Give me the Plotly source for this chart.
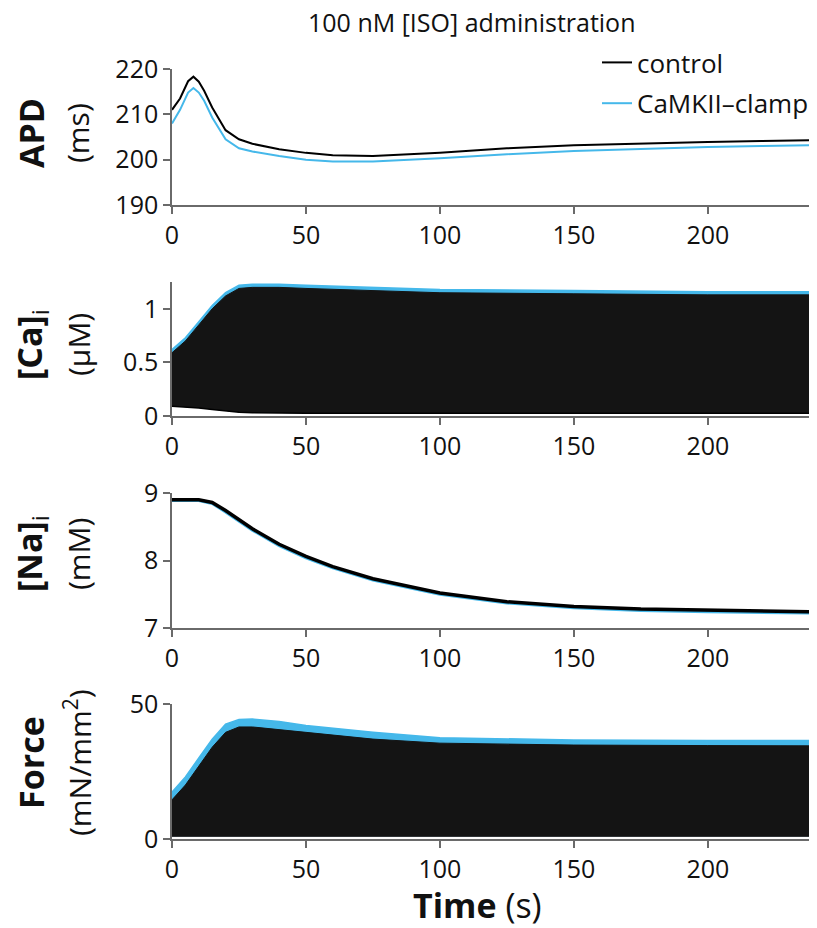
import plotly.graph_objects as go

# ---------------- data ----------------
t_apd = [0, 3, 6, 8, 10, 12, 15, 20, 25, 30, 40, 50, 60, 75, 100, 125, 150, 175, 200, 220, 240]
apd_control = [211, 213.5, 217.3, 218.3, 217.2, 215.2, 211.5, 206.5, 204.5, 203.5, 202.3, 201.5,
               201.0, 200.8, 201.5, 202.5, 203.2, 203.6, 203.9, 204.1, 204.3]
apd_clamp = [208, 211, 214.8, 215.8, 214.8, 213.0, 209.3, 204.5, 202.5, 201.8, 200.8, 200.0,
             199.6, 199.6, 200.3, 201.2, 201.9, 202.4, 202.8, 203.0, 203.2]

t_env = [0, 5, 10, 15, 20, 25, 30, 40, 50, 75, 100, 150, 200, 240]
ca_peak_control = [0.59, 0.70, 0.85, 1.00, 1.12, 1.19, 1.20, 1.20, 1.19, 1.17, 1.15, 1.14, 1.13, 1.13]
ca_peak_clamp = [0.62, 0.73, 0.88, 1.03, 1.15, 1.22, 1.23, 1.23, 1.22, 1.20, 1.18, 1.17, 1.16, 1.16]
ca_diast = [0.09, 0.085, 0.075, 0.06, 0.045, 0.035, 0.03, 0.027, 0.025, 0.025, 0.025, 0.025, 0.025, 0.025]

t_na = [0, 5, 10, 15, 20, 30, 40, 50, 60, 75, 100, 125, 150, 175, 200, 240]
na_control = [8.90, 8.90, 8.90, 8.86, 8.74, 8.47, 8.24, 8.06, 7.91, 7.73, 7.52, 7.39, 7.32, 7.28, 7.26, 7.24]
na_clamp = [8.89, 8.89, 8.89, 8.845, 8.72, 8.45, 8.22, 8.04, 7.89, 7.71, 7.50, 7.37, 7.30, 7.26, 7.24, 7.22]

force_peak_control = [14.5, 20, 27, 34, 39.5, 41.5, 41.5, 40.5, 39.3, 37.0, 35.5, 34.8, 34.6, 34.5]
force_peak_clamp = [17.4, 23, 30, 37, 42.5, 44.3, 44.4, 43.5, 42.0, 39.5, 37.5, 36.7, 36.5, 36.5]
force_diast = [1.0] * len(t_env)

x_ticks = [0, 50, 100, 150, 200]
ytick_apd = [190, 200, 210, 220]
ytick_ca = [0, 0.5, 1]
ytick_na = [7, 8, 9]
ytick_force = [0, 50]

BLACK = "#000000"
CYAN = "#45B8EA"
FONT = "Open Sans"
TXT = "#111111"

W, H = 817, 928
OFF = 8            # page offset of the plot div
L = 172 - OFF      # left edge of plot area (figure px)
RIGHT = 815 - OFF  # right edge of plot area (figure px)
R = W - RIGHT

def py(px):
    return 1 - (px - OFF) / H

def px_x(px):
    return (px - OFF - L) / (RIGHT - L)

fig = go.Figure()

# Panel 1: APD
fig.add_trace(go.Scatter(x=t_apd, y=apd_control, mode="lines", line=dict(color=BLACK, width=2),
                         name="control", xaxis="x", yaxis="y", legendgroup="a"))
fig.add_trace(go.Scatter(x=t_apd, y=apd_clamp, mode="lines", line=dict(color=CYAN, width=2),
                         name="CaMKII\u2013clamp", xaxis="x", yaxis="y", legendgroup="b"))

# Panel 2: Ca (envelopes of the beat-to-beat transients)
fig.add_trace(go.Scatter(x=t_env, y=ca_diast, mode="lines", line=dict(color=CYAN, width=0),
                         showlegend=False, xaxis="x2", yaxis="y2", hoverinfo="skip"))
fig.add_trace(go.Scatter(x=t_env, y=ca_peak_clamp, mode="lines", line=dict(color=CYAN, width=1.5),
                         fill="tonexty", fillcolor=CYAN, showlegend=False, xaxis="x2", yaxis="y2"))
fig.add_trace(go.Scatter(x=t_env, y=ca_diast, mode="lines", line=dict(color=BLACK, width=1.5),
                         showlegend=False, xaxis="x2", yaxis="y2"))
fig.add_trace(go.Scatter(x=t_env, y=ca_peak_control, mode="lines", line=dict(color="#141414", width=1),
                         fill="tonexty", fillcolor="#141414", showlegend=False, xaxis="x2", yaxis="y2"))

# Panel 3: Na
fig.add_trace(go.Scatter(x=t_na, y=na_clamp, mode="lines", line=dict(color=CYAN, width=3),
                         showlegend=False, xaxis="x3", yaxis="y3"))
fig.add_trace(go.Scatter(x=t_na, y=na_control, mode="lines", line=dict(color=BLACK, width=3.5),
                         showlegend=False, xaxis="x3", yaxis="y3"))

# Panel 4: Force
fig.add_trace(go.Scatter(x=t_env, y=force_diast, mode="lines", line=dict(color=CYAN, width=0),
                         showlegend=False, xaxis="x4", yaxis="y4", hoverinfo="skip"))
fig.add_trace(go.Scatter(x=t_env, y=force_peak_clamp, mode="lines", line=dict(color=CYAN, width=1.5),
                         fill="tonexty", fillcolor=CYAN, showlegend=False, xaxis="x4", yaxis="y4"))
fig.add_trace(go.Scatter(x=t_env, y=force_diast, mode="lines", line=dict(color="#141414", width=1),
                         showlegend=False, xaxis="x4", yaxis="y4"))
fig.add_trace(go.Scatter(x=t_env, y=force_peak_control, mode="lines", line=dict(color="#141414", width=1),
                         fill="tonexty", fillcolor="#141414", showlegend=False, xaxis="x4", yaxis="y4"))

axis_common = dict(showline=True, linecolor="#6a6a6a", linewidth=1.5, ticks="outside",
                   ticklen=7, tickwidth=1.5, tickcolor="#6a6a6a", showgrid=False, zeroline=False,
                   automargin=False, tickfont=dict(family=FONT, size=25, color=TXT))

panels = [(69, 205, [190, 220], ytick_apd), (282, 416, [0, 1.25], ytick_ca),
          (493, 628, [7, 9], ytick_na), (704, 839, [0, 50], ytick_force)]

layout = dict(width=W, height=H, margin=dict(l=L, r=R, t=0, b=0, autoexpand=False),
              plot_bgcolor="white", paper_bgcolor="white",
              font=dict(family=FONT, color=TXT),
              legend=dict(x=px_x(597), y=py(39), xanchor="left", yanchor="top",
                          font=dict(family=FONT, size=26, color=TXT),
                          bgcolor="rgba(0,0,0,0)", tracegroupgap=4))
for i, (top, bot, yr, yt) in enumerate(panels):
    sfx = "" if i == 0 else str(i + 1)
    layout["xaxis" + sfx] = dict(axis_common, domain=[0, 1], range=[0, 240], tickvals=x_ticks,
                                 anchor="y" + sfx)
    layout["yaxis" + sfx] = dict(axis_common, domain=[py(bot), py(top)], range=yr, tickvals=yt,
                                 anchor="x" + sfx)
fig.update_layout(**layout)

# y titles (bold label + unit line)
labels = [("<b>APD</b>", "(ms)", 133), ("<b>[Ca]</b><sub>i</sub>", "(\u03bcM)", 345),
          ("<b>[Na]</b><sub>i</sub>", "(mM)", 554), ("<b>Force</b>", "(mN/mm<sup>2</sup>)", 763)]
for bold, unit, yc in labels:
    fig.add_annotation(text=bold, x=px_x(31), y=py(yc), xref="paper", yref="paper",
                       textangle=-90, showarrow=False, xanchor="center", yanchor="middle",
                       font=dict(family=FONT, size=34, color=TXT))
    fig.add_annotation(text=unit, x=px_x(78), y=py(yc), xref="paper", yref="paper",
                       textangle=-90, showarrow=False, xanchor="center", yanchor="middle",
                       font=dict(family=FONT, size=30, color=TXT))

fig.add_annotation(text="100 nM [ISO] administration", x=px_x(472), y=py(22), xref="paper",
                   yref="paper", showarrow=False, xanchor="center", yanchor="middle",
                   font=dict(family=FONT, size=25, color=TXT))
fig.add_annotation(text="<b>Time</b> (s)", x=px_x(477), y=py(905), xref="paper",
                   yref="paper", showarrow=False, xanchor="center", yanchor="middle",
                   font=dict(family=FONT, size=34, color=TXT))

fig.write_html("out.html")
